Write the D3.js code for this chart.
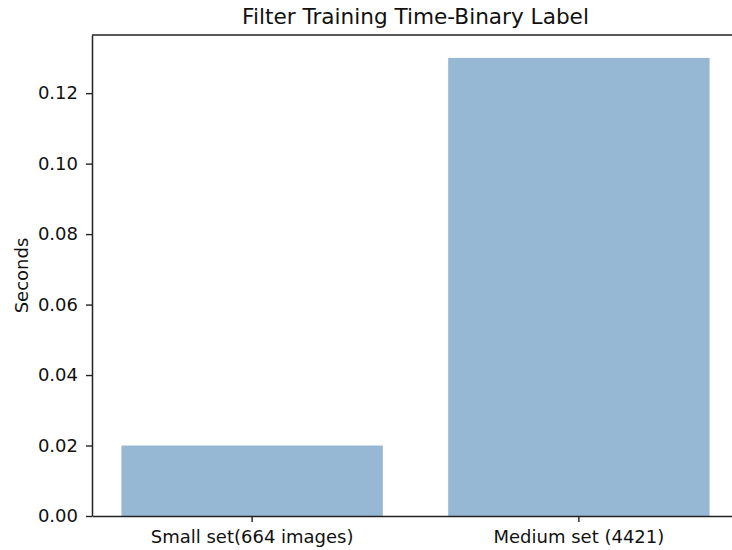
<!DOCTYPE html>
<html>
<head>
<meta charset="utf-8">
<script src="https://cdn.jsdelivr.net/npm/d3@7"></script>
<style>
  body { margin: 0; background: #fff; }
  svg { display: block; font-family: "DejaVu Sans", sans-serif; }
</style>
</head>
<body>
<div id="chart"></div>
<script>
// data
const categories = ["Small set(664 images)", "Medium set (4421)"];
const seconds = [0.02, 0.13];
const yTicks = [0, 0.02, 0.04, 0.06, 0.08, 0.10, 0.12];

const width = 732, height = 550;
const margin = { top: 35, left: 92, bottom: 516, right: 739 };

const svg = d3.select("#chart").append("svg")
  .attr("width", width)
  .attr("height", height);

const x = d3.scaleBand()
  .domain(categories)
  .range([margin.left, margin.right])
  .paddingInner(0.2)
  .paddingOuter(0.09);

const y = d3.scaleLinear()
  .domain([0, 0.1365])
  .range([margin.bottom, margin.top]);

// bars
svg.append("g").selectAll("rect")
  .data(seconds).join("rect")
  .attr("x", (d, i) => x(categories[i]))
  .attr("y", d => y(d))
  .attr("width", x.bandwidth())
  .attr("height", d => y(0) - y(d))
  .attr("fill", "#96b8d4");

// y axis
svg.append("g")
  .attr("transform", `translate(${margin.left},0)`)
  .call(d3.axisLeft(y).tickValues(yTicks).tickFormat(d3.format(".2f"))
    .tickSizeInner(6).tickSizeOuter(0).tickPadding(8))
  .call(g => g.select(".domain").attr("stroke", "#222").attr("stroke-width", 1.5))
  .call(g => g.selectAll(".tick line").attr("stroke", "#222").attr("stroke-width", 1.4))
  .call(g => g.selectAll(".tick text").attr("font-size", 18).attr("fill", "#111")
    .attr("font-family", "DejaVu Sans"));

// x axis
svg.append("g")
  .attr("transform", `translate(0,${margin.bottom})`)
  .call(d3.axisBottom(x).tickSizeInner(6).tickSizeOuter(0).tickPadding(8))
  .call(g => g.select(".domain").attr("stroke", "#222").attr("stroke-width", 1.5))
  .call(g => g.selectAll(".tick line").attr("stroke", "#222").attr("stroke-width", 1.4))
  .call(g => g.selectAll(".tick text").attr("font-size", 18).attr("fill", "#111")
    .attr("font-family", "DejaVu Sans"));

// top spine
svg.append("line")
  .attr("x1", margin.left).attr("x2", margin.right)
  .attr("y1", margin.top).attr("y2", margin.top)
  .attr("stroke", "#222").attr("stroke-width", 1.5);

// title
svg.append("text")
  .attr("x", (margin.left + margin.right) / 2)
  .attr("y", 24)
  .attr("text-anchor", "middle")
  .attr("font-size", 21.6)
  .attr("fill", "#111")
  .text("Filter Training Time-Binary Label");

// y label
svg.append("text")
  .attr("transform", `translate(28,${(margin.top + margin.bottom) / 2}) rotate(-90)`)
  .attr("text-anchor", "middle")
  .attr("font-size", 18)
  .attr("fill", "#111")
  .text("Seconds");
</script>
</body>
</html>
